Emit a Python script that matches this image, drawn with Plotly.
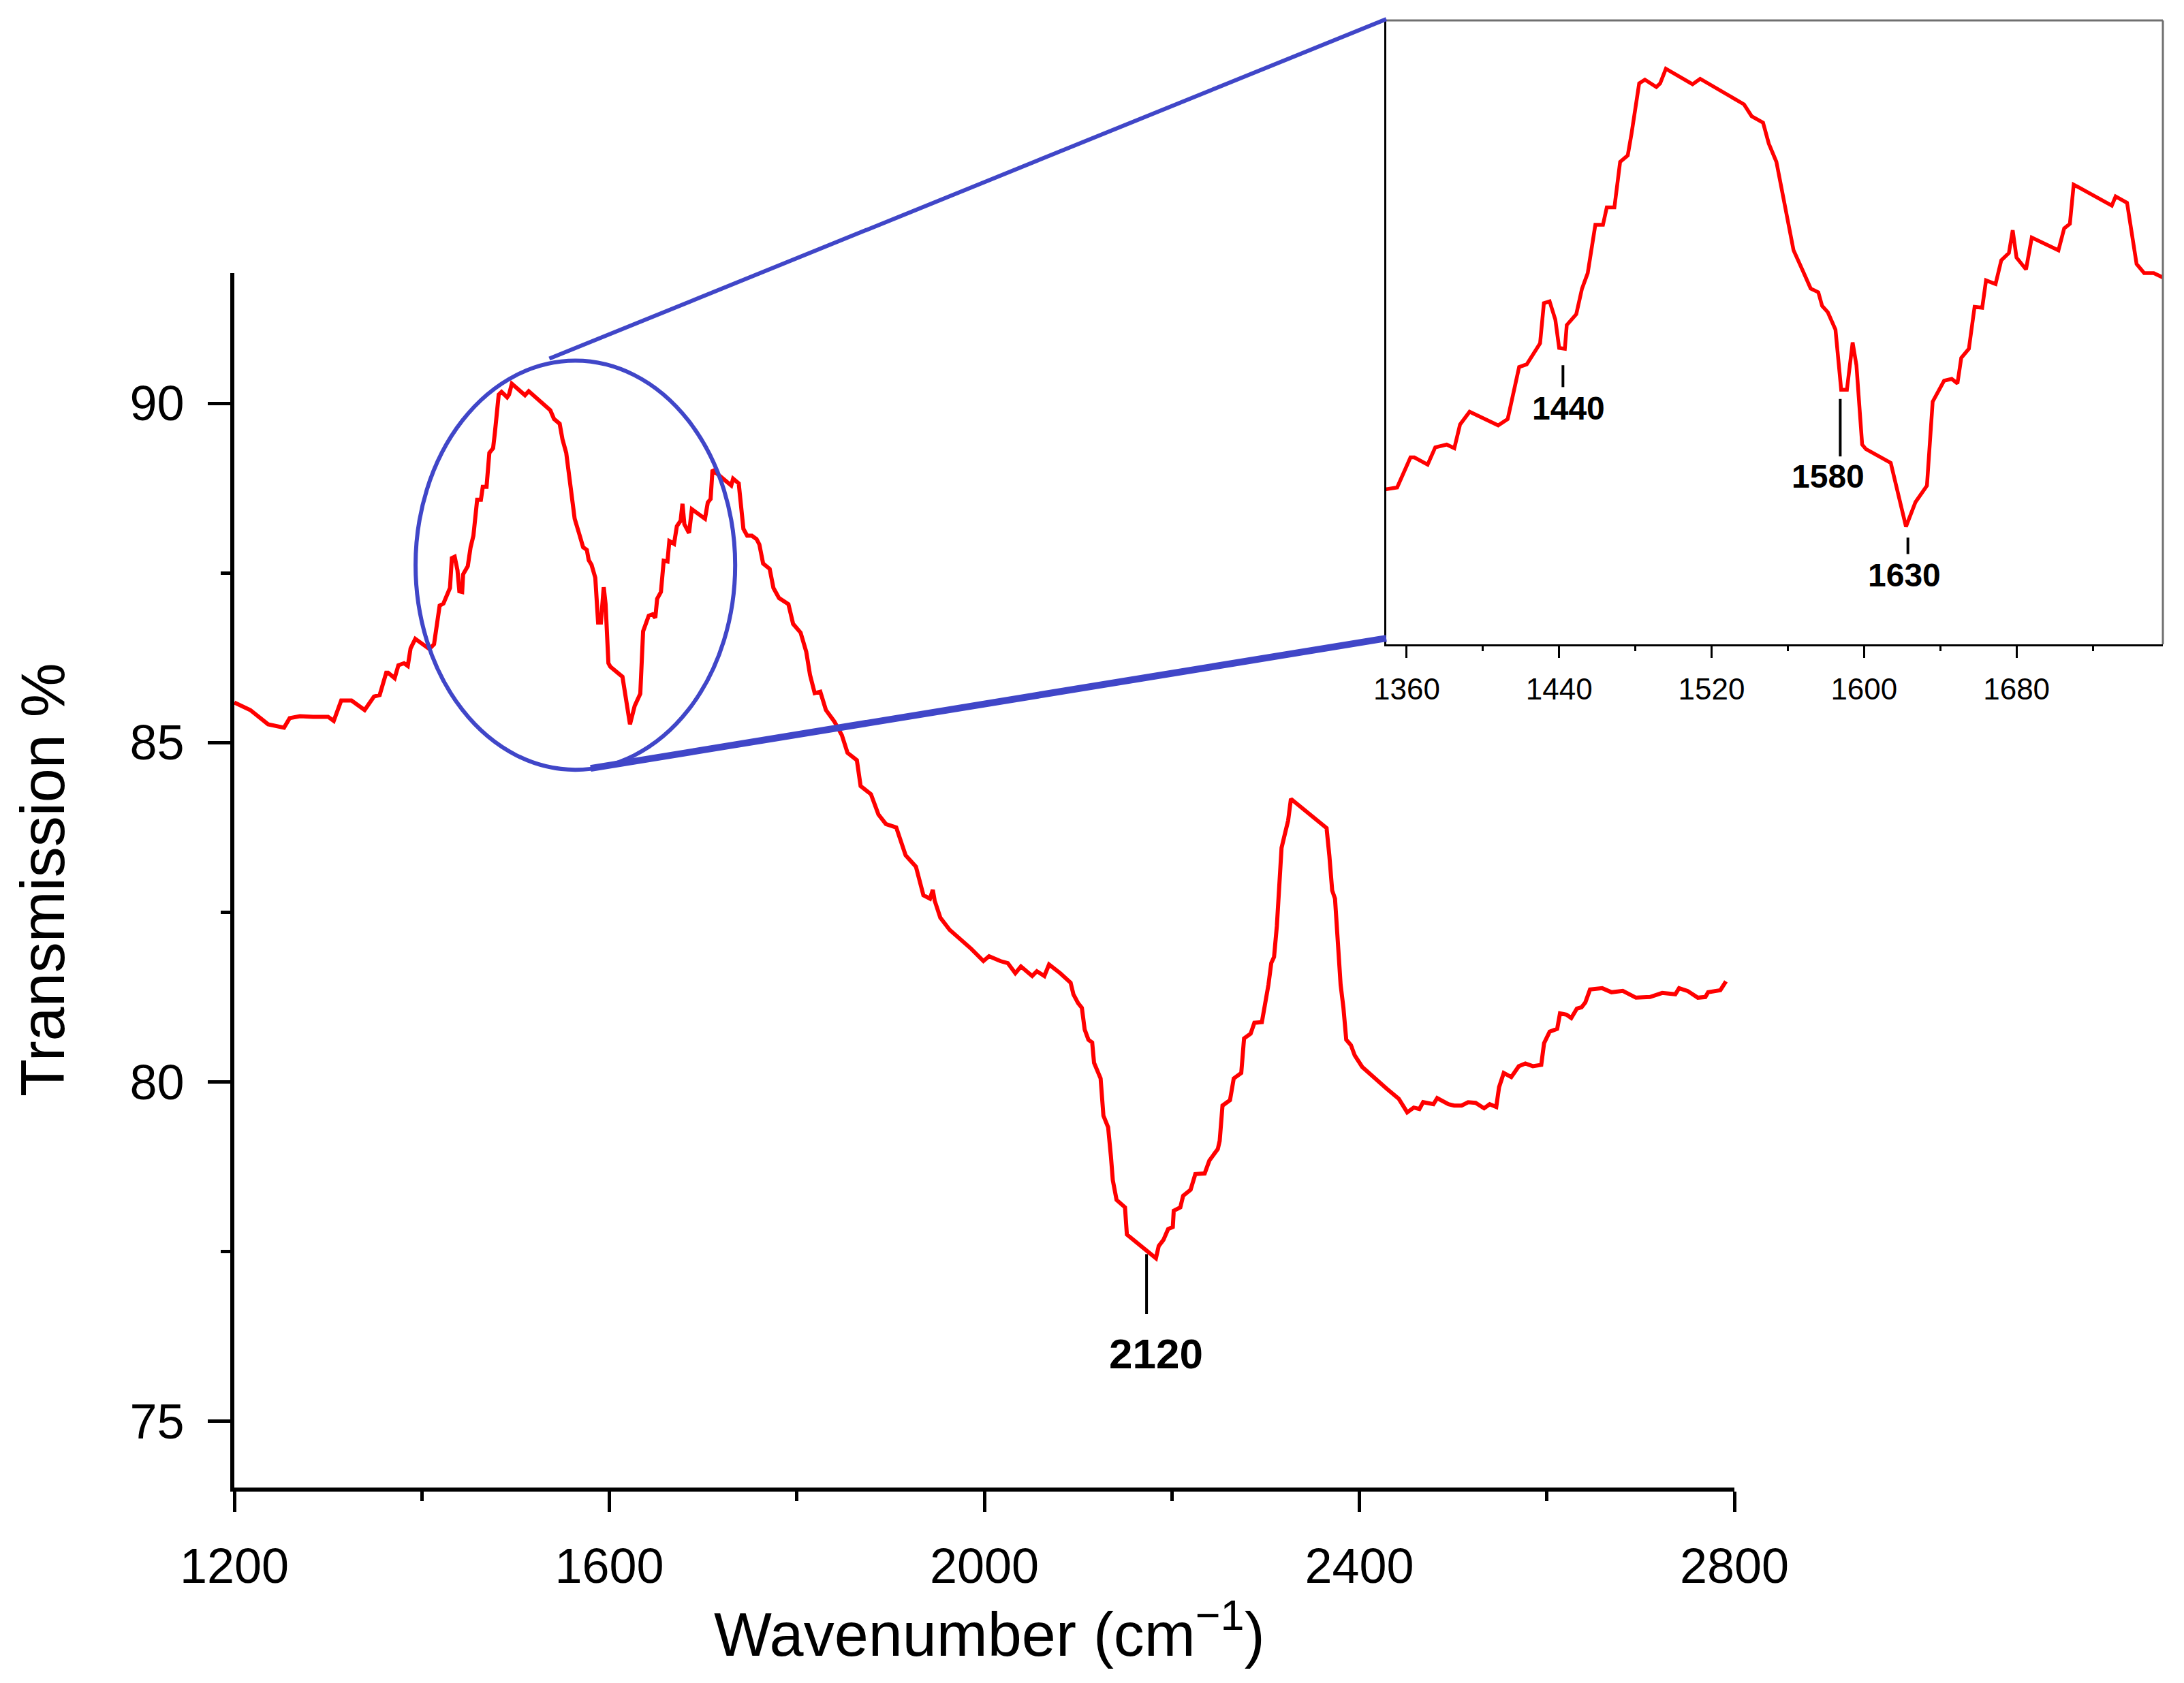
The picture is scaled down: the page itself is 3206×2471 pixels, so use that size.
import plotly.graph_objects as go

# FTIR spectrum
wavenumber = [
    1200, 1217, 1236, 1253, 1259, 1270, 1284, 1300, 1306, 1314, 1325, 1339,
    1349, 1355, 1362, 1364, 1371, 1375, 1381, 1385, 1388, 1393, 1408, 1413,
    1419, 1423, 1430, 1432, 1435, 1438, 1440, 1443, 1444, 1449, 1452, 1455,
    1459, 1463, 1465, 1469, 1472, 1476, 1478, 1482, 1485, 1491, 1493, 1496,
    1510, 1514, 1537, 1541, 1547, 1550, 1554, 1559, 1563, 1568, 1572, 1576,
    1578, 1581, 1585, 1588, 1591, 1594, 1596, 1599, 1601, 1614, 1618, 1622,
    1627, 1633, 1636, 1642, 1646, 1649, 1651, 1655, 1658, 1662, 1664, 1669,
    1672, 1676, 1678, 1680, 1685, 1688, 1702, 1705, 1708, 1710, 1730, 1732,
    1738, 1743, 1747, 1752, 1757,
    1760, 1764, 1771, 1775, 1781, 1791, 1796, 1804, 1810, 1814, 1819, 1825,
    1831, 1840, 1848, 1854, 1864, 1868, 1879, 1887, 1895, 1906, 1916, 1927,
    1935, 1942, 1945, 1947, 1953, 1963, 1973, 1986, 1999, 2005, 2017, 2025,
    2033, 2039,
    2051, 2056, 2064, 2069, 2081, 2092, 2095, 2100, 2104, 2107, 2111, 2115,
    2117, 2124, 2127, 2132, 2135, 2137, 2141, 2150, 2152, 2173, 2183, 2186,
    2191, 2196, 2201, 2202, 2209, 2212, 2220, 2225, 2235, 2240, 2249, 2251,
    2254, 2262, 2266, 2274, 2277, 2284, 2288, 2296, 2300, 2303, 2306, 2309,
    2312, 2315, 2317, 2321, 2324, 2327, 2352, 2365, 2368, 2371, 2374, 2378,
    2380, 2383, 2386, 2391, 2395, 2403, 2416, 2429, 2442,
    2451, 2458, 2464, 2468, 2479, 2483, 2495, 2501, 2509, 2516, 2524, 2533,
    2539, 2546, 2549, 2554, 2562, 2570, 2577, 2585, 2594, 2597, 2603, 2611,
    2614, 2621, 2626, 2632, 2637, 2641, 2646, 2659, 2669, 2681, 2695, 2710,
    2723, 2737, 2741, 2750, 2761, 2769, 2772, 2785, 2789, 2791,
]
transmission = [
    85.59, 85.48, 85.27, 85.22, 85.36, 85.39, 85.38, 85.38, 85.32, 85.62, 85.62, 85.48,
    85.68, 85.70, 86.03, 86.03, 85.95, 86.14, 86.17, 86.13, 86.39, 86.53, 86.38, 86.45,
    87.02, 87.05, 87.28, 87.72, 87.74, 87.54, 87.23, 87.22, 87.48, 87.60, 87.88, 88.05,
    88.58, 88.58, 88.77, 88.77, 89.27, 89.34, 89.58, 90.13, 90.17, 90.09, 90.13, 90.29,
    90.12, 90.18, 89.90, 89.77, 89.70, 89.47, 89.27, 88.70, 88.30, 88.07, 87.88, 87.84,
    87.69, 87.62, 87.43, 86.77, 86.77, 87.29, 87.04, 86.17, 86.12, 85.97, 85.62, 85.27,
    85.54, 85.72, 86.64, 86.87, 86.89, 86.84, 87.12, 87.22, 87.68, 87.67, 87.97, 87.93,
    88.19, 88.27, 88.52, 88.22, 88.09, 88.44, 88.30, 88.54, 88.59, 89.02, 88.79, 88.89,
    88.82, 88.15, 88.05, 88.05, 88.00,
    87.92, 87.64, 87.56, 87.28, 87.13, 87.04, 86.75, 86.62, 86.34, 86.00, 85.73, 85.75,
    85.48, 85.31, 85.11, 84.85, 84.74, 84.36, 84.24, 83.94, 83.80, 83.75, 83.34, 83.17,
    82.75, 82.70, 82.83, 82.67, 82.42, 82.24, 82.12, 81.96, 81.78, 81.85, 81.78, 81.75,
    81.60, 81.70,
    81.56, 81.63, 81.56, 81.73, 81.60, 81.46, 81.29, 81.16, 81.09, 80.77, 80.62, 80.58,
    80.28, 80.05, 79.50, 79.33, 78.90, 78.55, 78.26, 78.15, 77.75, 77.51, 77.40, 77.58,
    77.67, 77.83, 77.86, 78.10, 78.15, 78.32, 78.41, 78.64, 78.65, 78.84, 79.01, 79.13,
    79.65, 79.73, 80.05, 80.13, 80.64, 80.71, 80.87, 80.88, 81.16, 81.43, 81.75, 81.84,
    82.30, 82.87, 83.45, 83.68, 83.85, 84.17, 83.88, 83.74, 83.33, 82.82, 82.70, 81.89,
    81.43, 81.09, 80.62, 80.54, 80.39, 80.22, 80.05, 79.90, 79.75,
    79.55, 79.62, 79.60, 79.70, 79.67, 79.76, 79.67, 79.65, 79.65, 79.70, 79.69, 79.61,
    79.67, 79.63, 79.92, 80.13, 80.07, 80.23, 80.27, 80.23, 80.25, 80.57, 80.74, 80.78,
    81.01, 80.99, 80.94, 81.08, 81.10, 81.17, 81.36, 81.38, 81.32, 81.34, 81.24, 81.25,
    81.31, 81.29, 81.38, 81.34, 81.24, 81.25, 81.32, 81.35, 81.43, 81.48,
]

main_ticks = [1200, 1600, 2000, 2400, 2800]
y_ticks = [75, 80, 85, 90]
inset_ticks = [1360, 1440, 1520, 1600, 1680]

main_peak = "2120"
inset_peaks = ["1440", "1580", "1630"]

W, H = 3206, 2471
XR, YR = [1200, 2800], [74.02, 91.92]
XDOM = [344 / W, 2546 / W]
YDOM = [1 - 2184 / H, 1 - 401 / H]
X2R, Y2R = [1349.3, 1756.8], [83.98, 90.82]
X2DOM = [2035 / W, 3175 / W]
Y2DOM = [1 - 946 / H, 1 - 30 / H]

RED = "#ff0000"
BLUE = "#4046c8"
FONT = "Liberation Sans, Arial, sans-serif"


def main_to_paper(x, y):
    px = XDOM[0] + (x - XR[0]) / (XR[1] - XR[0]) * (XDOM[1] - XDOM[0])
    py = YDOM[0] + (y - YR[0]) / (YR[1] - YR[0]) * (YDOM[1] - YDOM[0])
    return px, py


fig = go.Figure()
fig.add_trace(go.Scatter(x=wavenumber, y=transmission, mode="lines",
                         line=dict(color=RED, width=6), xaxis="x", yaxis="y"))
fig.add_trace(go.Scatter(x=wavenumber, y=transmission, mode="lines",
                         line=dict(color=RED, width=5.5), xaxis="x2", yaxis="y2"))

fig.update_layout(
    template="none",
    width=W, height=H, autosize=False,
    margin=dict(l=0, r=0, t=0, b=0, pad=0),
    paper_bgcolor="white", plot_bgcolor="white",
    showlegend=False,
    font=dict(family=FONT, color="black"),
    xaxis=dict(domain=XDOM, range=XR, anchor="y", automargin=False,
               showgrid=False, zeroline=False,
               showline=True, linecolor="black", linewidth=6,
               ticks="outside", ticklen=30, tickwidth=5, tickcolor="black",
               tickvals=main_ticks, tickfont=dict(size=72), ticklabelstandoff=18,
               minor=dict(dtick=200, tick0=1200, ticks="outside", ticklen=14,
                          tickwidth=5, tickcolor="black", showgrid=False)),
    yaxis=dict(domain=YDOM, range=YR, anchor="x", automargin=False,
               showgrid=False, zeroline=False,
               showline=True, linecolor="black", linewidth=6,
               ticks="outside", ticklen=33, tickwidth=5, tickcolor="black",
               tickvals=y_ticks, tickfont=dict(size=72), ticklabelstandoff=20,
               minor=dict(dtick=2.5, tick0=75, ticks="outside", ticklen=14,
                          tickwidth=5, tickcolor="black", showgrid=False)),
    xaxis2=dict(domain=X2DOM, range=X2R, anchor="y2", automargin=False,
                showgrid=False, zeroline=False,
                showline=True, linecolor="black", linewidth=3,
                ticks="outside", ticklen=17, tickwidth=3, tickcolor="black",
                tickvals=inset_ticks, tickfont=dict(size=44), ticklabelstandoff=8,
                minor=dict(dtick=40, tick0=1360, ticks="outside", ticklen=7,
                           tickwidth=3, tickcolor="black", showgrid=False)),
    yaxis2=dict(domain=Y2DOM, range=Y2R, anchor="x2", automargin=False,
                showgrid=False, zeroline=False,
                showline=True, linecolor="black", linewidth=3,
                showticklabels=False, ticks=""),
)

# inset frame: grey top and right sides
fig.add_shape(type="line", xref="x2 domain", yref="y2 domain", x0=0, x1=1, y0=1, y1=1,
              line=dict(color="#707070", width=3))
fig.add_shape(type="line", xref="x2 domain", yref="y2 domain", x0=1, x1=1, y0=0, y1=1,
              line=dict(color="#707070", width=3))

# zoom ellipse and connectors
fig.add_shape(type="circle", xref="x", yref="y", x0=1393.3, x1=1734.2, y0=84.60, y1=90.63,
              line=dict(color=BLUE, width=6))
p_top = main_to_paper(1536, 90.66)
p_bot = main_to_paper(1580, 84.62)
fig.add_shape(type="line", xref="paper", yref="paper", x0=p_top[0], y0=p_top[1],
              x1=X2DOM[0], y1=Y2DOM[1] + 0.0008, line=dict(color=BLUE, width=6))
fig.add_shape(type="line", xref="paper", yref="paper", x0=p_bot[0], y0=p_bot[1],
              x1=X2DOM[0], y1=Y2DOM[0] + 0.0036, line=dict(color=BLUE, width=10))

# peak markers
fig.add_shape(type="line", xref="x", yref="y", x0=2173, x1=2173, y0=77.46, y1=76.58,
              line=dict(color="black", width=4))
fig.add_annotation(x=2183, y=75.99, xref="x", yref="y", text=main_peak, showarrow=False,
                   font=dict(size=62, family=FONT, color="black", weight="bold"))

inset_marks = [(1442, 87.04, 86.80, 1445, 86.57),
               (1587.5, 86.67, 86.04, 1581, 85.82),
               (1623, 85.15, 84.97, 1621, 84.74)]
for label, (lx, ly0, ly1, tx, ty) in zip(inset_peaks, inset_marks):
    fig.add_shape(type="line", xref="x2", yref="y2", x0=lx, x1=lx, y0=ly0, y1=ly1,
                  line=dict(color="black", width=4))
    fig.add_annotation(x=tx, y=ty, xref="x2", yref="y2", text=label, showarrow=False,
                       font=dict(size=48, family=FONT, color="black", weight="bold"))

# axis titles
fig.add_annotation(x=1452 / W, y=1 - 2393 / H, xref="paper", yref="paper",
                   text="Wavenumber (cm<sup>\u22121</sup>)", showarrow=False,
                   xanchor="center", yanchor="middle", font=dict(size=90, family=FONT))
fig.add_annotation(x=63 / W, y=1 - 1292 / H, xref="paper", yref="paper",
                   text="Transmission %", textangle=-90, showarrow=False,
                   xanchor="center", yanchor="middle", font=dict(size=90, family=FONT))

fig.write_html("out.html", config={"displayModeBar": False},
               post_script="document.body.style.margin='0';")
